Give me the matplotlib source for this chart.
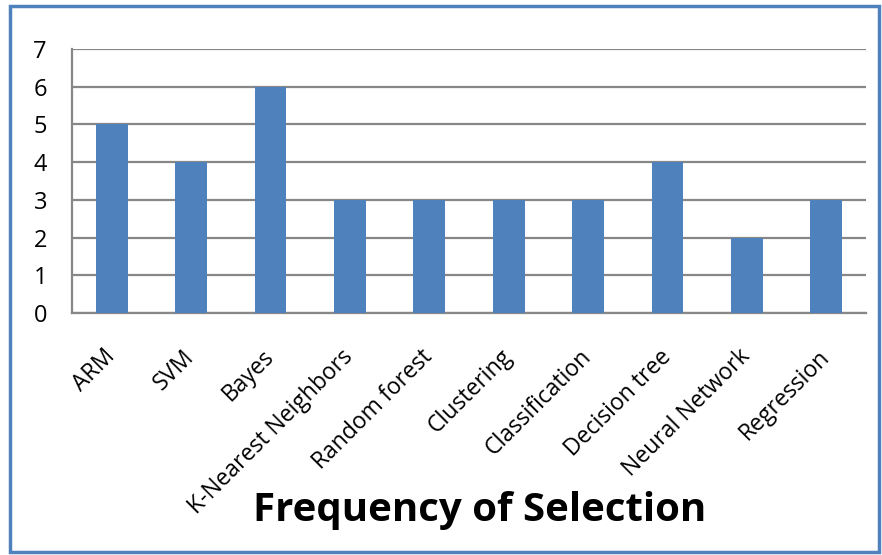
import matplotlib
matplotlib.use("Agg")
import matplotlib.pyplot as plt
from matplotlib.patches import Rectangle

categories = ["ARM", "SVM", "Bayes", "K-Nearest Neighbors", "Random forest",
              "Clustering", "Classification", "Decision tree", "Neural Network",
              "Regression"]
counts = [5, 4, 6, 3, 3, 3, 3, 4, 2, 3]
y_ticks = [0, 1, 2, 3, 4, 5, 6, 7]
title = "Frequency of Selection"

bar_color = "#4F81BD"
grid_color = "#878787"

plt.rcParams["font.family"] = ["Open Sans", "DejaVu Sans"]

fig = plt.figure(figsize=(8.82, 5.55), dpi=100)
W, H = 882, 555
ax = fig.add_axes([72 / W, 1 - 313 / H, (866 - 72) / W, (313 - 49) / H])

x = list(range(len(categories)))
ax.bar(x, counts, width=0.4, color=bar_color, zorder=3)
ax.set_xlim(-0.5, len(categories) - 0.5)
ax.set_ylim(0, 7)
ax.set_yticks(y_ticks)
ax.set_yticklabels([str(t) for t in y_ticks], fontsize=17)
ax.yaxis.grid(True, color=grid_color, linewidth=1.6, zorder=0)
ax.set_axisbelow(True)

for side in ("top", "right"):
    ax.spines[side].set_visible(False)
for side in ("left", "bottom"):
    ax.spines[side].set_color(grid_color)
    ax.spines[side].set_linewidth(1.6)

ax.tick_params(axis="y", length=0, pad=18)
ax.tick_params(axis="x", length=0, pad=29)
ax.set_xticks(x)
ax.set_xticklabels(categories, rotation=45, ha="right", va="center",
                   rotation_mode="anchor", fontsize=16.5)

fig.text(480 / W, 1 - 510 / H, title, ha="center", va="center",
         fontsize=29, fontweight="bold")

fig.patches.append(Rectangle((9.5 / W, 1 - 552 / H), (879 - 9.5) / W, (552 - 6) / H,
                             transform=fig.transFigure, fill=False,
                             edgecolor=bar_color, linewidth=2.5))

fig.savefig("out.png", dpi=100)
